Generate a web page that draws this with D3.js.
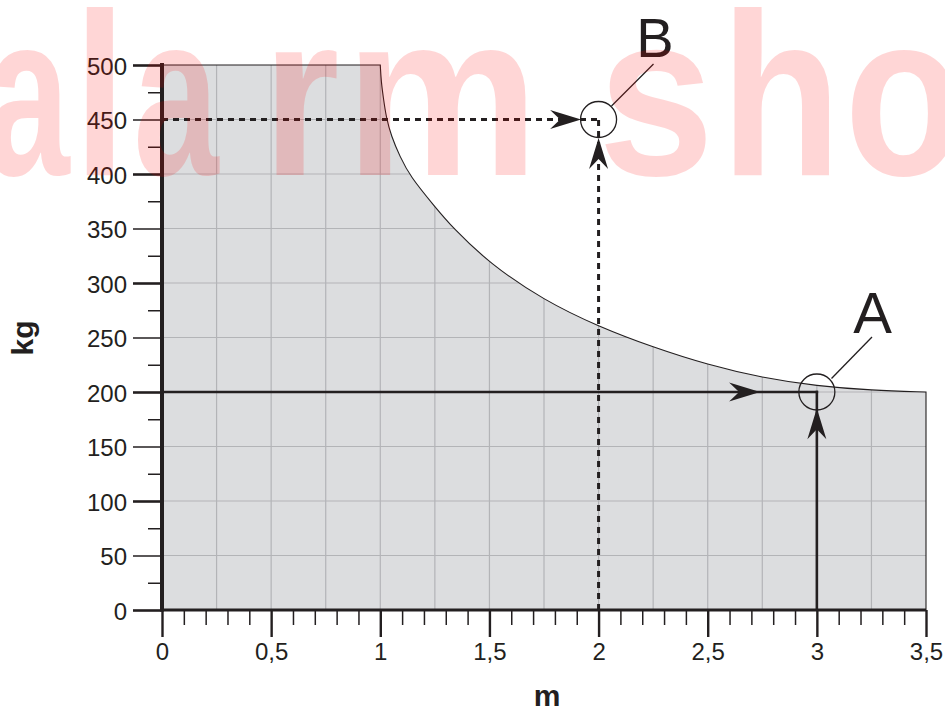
<!DOCTYPE html>
<html>
<head>
<meta charset="utf-8">
<script src="https://cdn.jsdelivr.net/npm/d3@7"></script>
<style>
  html, body { margin: 0; padding: 0; background: #ffffff; }
  svg { display: block; font-family: "Liberation Sans", Arial, Helvetica, sans-serif; }
</style>
</head>
<body>
<svg id="chart" width="945" height="711"></svg>
<script>
// ---------- data ----------
const lengthTicks = [0, 0.5, 1, 1.5, 2, 2.5, 3, 3.5];          // m
const massTicks   = [0, 50, 100, 150, 200, 250, 300, 350, 400, 450, 500]; // kg
const curveLength = [1.0, 1.004, 1.014, 1.027, 1.05, 1.09, 1.136, 1.25, 1.33, 1.5, 1.75, 2.0, 2.25, 2.5, 2.75, 3.0, 3.25, 3.5];
const curveMass   = [500, 485, 470, 452, 435, 416, 398, 370, 351, 318, 284, 260, 241, 225, 213, 205.5, 201.5, 200];
const plateauLength = [0, 1];
const plateauMass   = [500, 500];
const pointNames  = ["A", "B"];
const pointLength = [3, 2];
const pointMass   = [200, 450];
const arrowTipAlong = [2.74, 1.92];   // horizontal arrow tips (m)
const arrowTipUp    = [185, 433];     // vertical arrow tips (kg)
const watermarkText = "alarm sho";

// ---------- setup ----------
const ink = "#231f20";
const svg = d3.select("#chart");
const x = d3.scaleLinear().domain([0, 3.5]).range([162, 926]);
const y = d3.scaleLinear().domain([0, 500]).range([610, 65]);

// ---------- filled region ----------
const curvePts = curveLength.map((m, i) => [m, curveMass[i]]);
const curveLine = d3.line().x(d => x(d[0])).y(d => y(d[1])).curve(d3.curveBasis);
const curveD = curveLine(curvePts);
const areaD = `M${x(0)},${y(0)}L${x(plateauLength[0])},${y(plateauMass[0])}` +
  curveD.replace(/^M/, "L") + `L${x(3.5)},${y(0)}Z`;

const defs = svg.append("defs");
defs.append("clipPath").attr("id", "areaClip").append("path").attr("d", areaD);

svg.append("path").attr("d", areaD).attr("fill", "#dcdddf");

// grid
const grid = svg.append("g").attr("clip-path", "url(#areaClip)")
  .attr("stroke", "#b3b4b7").attr("stroke-width", 1.2);
grid.selectAll("line.v").data(d3.range(0.25, 3.5, 0.25)).join("line")
  .attr("x1", d => x(d)).attr("x2", d => x(d)).attr("y1", y(0)).attr("y2", y(500));
grid.selectAll("line.h").data(d3.range(50, 500, 50)).join("line")
  .attr("x1", x(0)).attr("x2", x(3.5)).attr("y1", d => y(d)).attr("y2", d => y(d));

// outline (top + curve + right edge)
const outlineD = `M${x(plateauLength[0])},${y(plateauMass[0])}` + curveD.replace(/^M/, "L") +
  `L${x(3.5)},${y(0)}`;
svg.append("path").attr("d", outlineD).attr("fill", "none").attr("stroke", ink).attr("stroke-width", 1.1);

// ---------- axes ----------
const fmt = d => String(d).replace(".", ",");

const yMajor = svg.append("g").attr("transform", `translate(${x(0)},0)`)
  .call(d3.axisLeft(y).tickValues(massTicks).tickSize(29).tickPadding(6).tickFormat(d => d));
yMajor.select(".domain").remove();
yMajor.selectAll(".tick line").attr("stroke", ink).attr("stroke-width", d => d % 100 === 0 ? 2.6 : 1.5);
yMajor.selectAll(".tick text").attr("fill", ink).style("font-size", "24px").attr("dy", "0.38em");

const yMinor = svg.append("g").attr("transform", `translate(${x(0)},0)`)
  .call(d3.axisLeft(y).tickValues(d3.range(25, 500, 50)).tickSize(14).tickFormat(""));
yMinor.select(".domain").remove();
yMinor.selectAll(".tick line").attr("stroke", ink).attr("stroke-width", 1.5);

const xMajor = svg.append("g").attr("transform", `translate(0,${y(0)})`)
  .call(d3.axisBottom(x).tickValues(lengthTicks).tickSize(27).tickPadding(6).tickFormat(fmt));
xMajor.select(".domain").remove();
xMajor.selectAll(".tick line").attr("stroke", ink).attr("stroke-width", 2.4);
xMajor.selectAll(".tick text").attr("fill", ink).style("font-size", "24px");

const minorX = d3.range(1, 35).map(i => i / 10).filter(v => Math.abs(v * 2 - Math.round(v * 2)) > 1e-6);
const xMinor = svg.append("g").attr("transform", `translate(0,${y(0)})`)
  .call(d3.axisBottom(x).tickValues(minorX).tickSize(15).tickFormat(""));
xMinor.select(".domain").remove();
xMinor.selectAll(".tick line").attr("stroke", ink).attr("stroke-width", 1.5);

// axis lines
svg.append("line").attr("x1", x(0)).attr("x2", x(3.5)).attr("y1", y(0)).attr("y2", y(0))
  .attr("stroke", ink).attr("stroke-width", 3.2);
svg.append("line").attr("x1", x(0)).attr("x2", x(0)).attr("y1", y(0) + 1.5).attr("y2", y(500) - 2)
  .attr("stroke", ink).attr("stroke-width", 4);

// axis titles
svg.append("text").attr("x", 547).attr("y", 706).attr("text-anchor", "middle")
  .attr("font-weight", "bold").style("font-size", "30px").attr("fill", ink).text("m");
svg.append("text").attr("transform", "translate(33,338) rotate(-90)").attr("text-anchor", "middle")
  .attr("font-weight", "bold").style("font-size", "30px").attr("fill", ink).text("kg");

// ---------- guide lines & arrows ----------
function arrowHead(tx, ty, dir) {
  const L = 31, W = 9.5, N = 21;
  let pts;
  if (dir === "right") pts = [[tx, ty], [tx - L, ty - W], [tx - N, ty], [tx - L, ty + W]];
  else pts = [[tx, ty], [tx - W, ty + L], [tx, ty + N], [tx + W, ty + L]];
  svg.append("path").attr("d", "M" + pts.map(p => p.join(",")).join("L") + "Z").attr("fill", ink);
}

const guides = svg.append("g");
pointNames.forEach((name, i) => {
  const px = x(pointLength[i]), py = y(pointMass[i]);
  const dashed = name === "B";
  const g = guides.append("g").attr("stroke", ink).attr("fill", "none")
    .attr("stroke-width", dashed ? 3 : 2.6)
    .attr("stroke-dasharray", dashed ? "6,5" : null);
  g.append("line").attr("x1", x(0)).attr("x2", px + (dashed ? 1 : 1.3)).attr("y1", py).attr("y2", py);
  g.append("line").attr("x1", px).attr("x2", px).attr("y1", y(0)).attr("y2", py - (dashed ? 1 : 1.3));
  arrowHead(x(arrowTipAlong[i]), py, "right");
  arrowHead(px, y(arrowTipUp[i]), "up");
  svg.append("circle").attr("cx", px).attr("cy", py).attr("r", 18)
    .attr("fill", "none").attr("stroke", ink).attr("stroke-width", 1.3);
});

// callouts
const calloutA = { x1: 831.5, y1: 378.5, x2: 872, y2: 337, lx: 872.5, ly: 333, fs: 58 };
const calloutB = { x1: 611.5, y1: 106, x2: 653.5, y2: 64, lx: 655, ly: 57, fs: 56 };
[calloutA, calloutB].forEach((c, i) => {
  svg.append("line").attr("x1", c.x1).attr("y1", c.y1).attr("x2", c.x2).attr("y2", c.y2)
    .attr("stroke", ink).attr("stroke-width", 1.3);
  svg.append("text").attr("x", c.lx).attr("y", c.ly).attr("text-anchor", "middle")
    .style("font-size", c.fs + "px").attr("fill", ink).text(pointNames[i]);
});

// ---------- watermark ----------
const wmCenters = [27, 100, 176, 301, 442, 0, 656, 781, 904];
const wmScaleX  = [0.66, 0.82, 0.66, 0.85, 0.94, 1, 0.9, 0.85, 0.84];
const wm = svg.append("g").attr("fill", "#ff0000").attr("fill-opacity", 0.16)
  .style("font-size", "232px").attr("font-weight", "bold");
watermarkText.split("").forEach((ch, i) => {
  if (ch === " ") return;
  wm.append("text").attr("transform", `translate(${wmCenters[i]},175) scale(${wmScaleX[i]},1)`)
    .attr("text-anchor", "middle").text(ch);
});
</script>
</body>
</html>
